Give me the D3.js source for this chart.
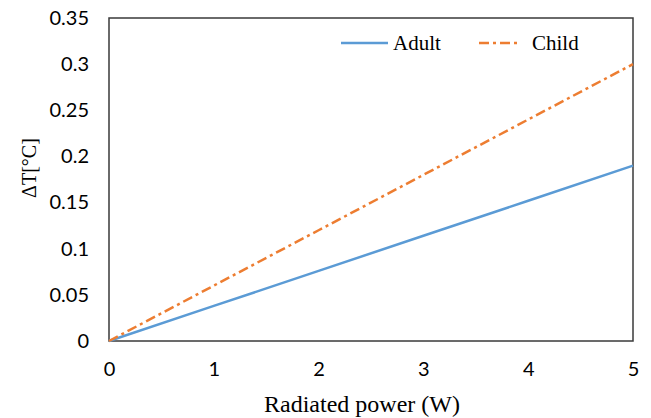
<!DOCTYPE html>
<html>
<head>
<meta charset="utf-8">
<script src="https://cdn.jsdelivr.net/npm/d3@7"></script>
<style>
  body { margin: 0; background: white; }
</style>
</head>
<body>
<div class="svg-wrap"></div>
<script>
const power = [0, 1, 2, 3, 4, 5];
const adult = [0, 0.038, 0.076, 0.114, 0.152, 0.19];
const child = [0, 0.06, 0.12, 0.18, 0.24, 0.30];
const xTicks = [0, 1, 2, 3, 4, 5];
const yTicks = [0, 0.05, 0.1, 0.15, 0.2, 0.25, 0.3, 0.35];

const margin = { left: 109, top: 18, right: 18, bottom: 77 };
const width = 651 - margin.left - margin.right;
const height = 418 - margin.top - margin.bottom;

let svg = d3.select(".svg-wrap")
  .append("svg")
  .attr("width", 651)
  .attr("height", 418)
  .style("background-color", "white");

let g = svg.append("g").attr("transform", `translate(${margin.left},${margin.top})`);

let scaleX = d3.scaleLinear().domain([0, 5]).range([0, width]);
let scaleY = d3.scaleLinear().domain([0, 0.35]).range([height, 0]);

// axes (labels only, frame drawn separately)
let xAxis = d3.axisBottom(scaleX).tickValues(xTicks).tickSize(0).tickPadding(21).tickFormat(d3.format("d"));
g.append("g")
  .attr("transform", `translate(0,${height})`)
  .call(xAxis)
  .call(a => a.select(".domain").remove())
  .selectAll("text")
  .style("font-family", "Lato")
  .style("font-size", "20px")
  .style("fill", "#000");

let yAxis = d3.axisLeft(scaleY).tickValues(yTicks).tickSize(0).tickPadding(20).tickFormat(d => d === 0 ? "0" : String(+d.toFixed(2)));
g.append("g")
  .call(yAxis)
  .call(a => a.select(".domain").remove())
  .selectAll("text")
  .style("font-family", "Lato")
  .style("font-size", "20px")
  .style("fill", "#000");

// frame
g.append("rect")
  .attr("x", 0).attr("y", 0)
  .attr("width", width).attr("height", height)
  .attr("fill", "none")
  .attr("stroke", "#3a3a3a")
  .attr("stroke-width", 1.5);

let line = d3.line()
  .x((d, i) => scaleX(power[i]))
  .y(d => scaleY(d));

g.append("path")
  .datum(adult)
  .attr("d", line)
  .attr("fill", "none")
  .attr("stroke", "#5B9BD5")
  .attr("stroke-width", 2.5);

g.append("path")
  .datum(child)
  .attr("d", line)
  .attr("fill", "none")
  .attr("stroke", "#ED7D31")
  .attr("stroke-width", 2.5)
  .attr("stroke-dasharray", "10,4,3,4");

// legend
let legend = svg.append("g").attr("transform", "translate(341,43)");
legend.append("line").attr("x1", 0).attr("x2", 47).attr("y1", 0).attr("y2", 0)
  .attr("stroke", "#5B9BD5").attr("stroke-width", 2.5);
legend.append("text").attr("x", 52).attr("y", 7).text("Adult")
  .style("font-family", "Liberation Serif").style("font-size", "21px");
legend.append("line").attr("x1", 138).attr("x2", 178).attr("y1", 0).attr("y2", 0)
  .attr("stroke", "#ED7D31").attr("stroke-width", 2.5).attr("stroke-dasharray", "10,4,3,4");
legend.append("text").attr("x", 191).attr("y", 7).text("Child")
  .style("font-family", "Liberation Serif").style("font-size", "21px");

// axis titles
svg.append("text")
  .attr("x", 362)
  .attr("y", 412)
  .attr("text-anchor", "middle")
  .text("Radiated power (W)")
  .style("font-family", "Liberation Serif")
  .style("font-size", "24px");

svg.append("text")
  .attr("transform", "rotate(-90)")
  .attr("x", -168)
  .attr("y", 36)
  .attr("text-anchor", "middle")
  .text("ΔT[°C]")
  .style("font-family", "Liberation Serif")
  .style("font-size", "20px");
</script>
</body>
</html>
